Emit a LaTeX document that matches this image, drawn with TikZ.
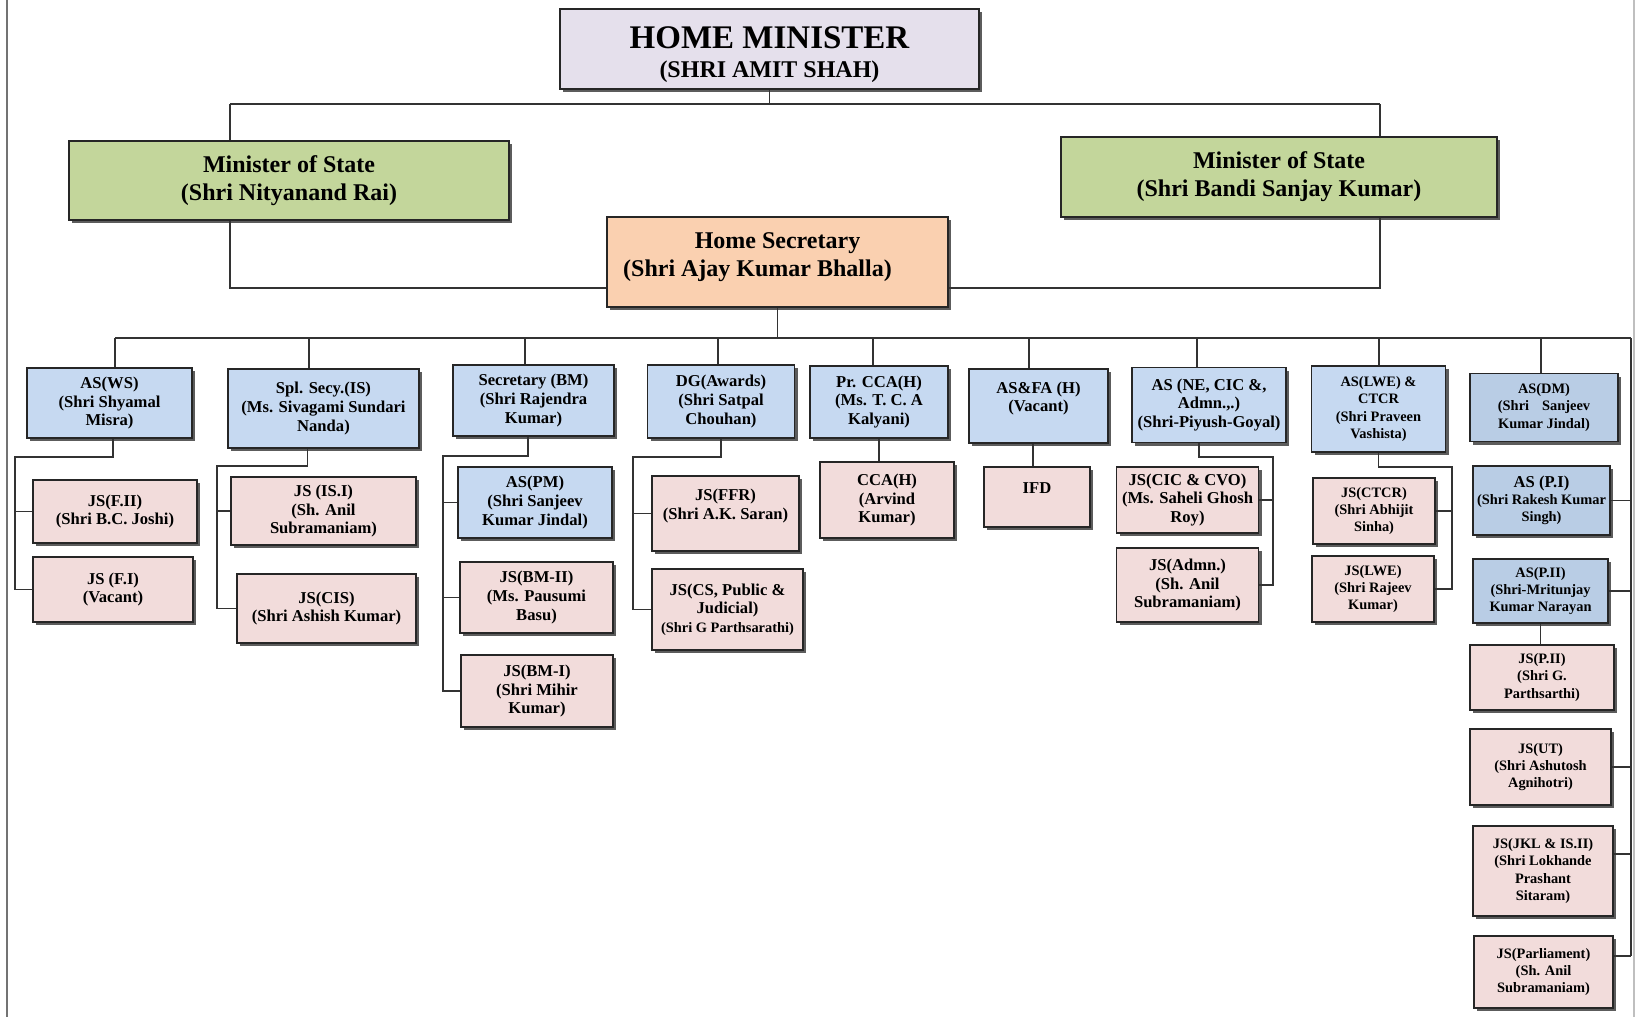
\documentclass[tikz,border=0pt]{standalone}
\usepackage{fontspec}
\setmainfont{Liberation Serif}
\usetikzlibrary{shadows}

\definecolor{hmcol}{HTML}{E5E0EC}
\definecolor{moscol}{HTML}{C3D69B}
\definecolor{hscol}{HTML}{FAD0B0}
\definecolor{bluecol}{HTML}{C6D9F1}
\definecolor{dbluecol}{HTML}{B9CDE5}
\definecolor{pinkcol}{HTML}{F2DCDB}

\tikzset{
  box/.style={draw=black!85, line width=0.8pt, align=center, inner sep=1pt,
    font={\bfseries\fontsize{8.3}{9.3}\selectfont},
    drop shadow={shadow xshift=1.5pt, shadow yshift=-1.5pt, fill=black!75, opacity=0.85}},
  bluebox/.style={box, fill=bluecol},
  dbluebox/.style={box, fill=dbluecol},
  pinkbox/.style={box, fill=pinkcol},
  sm/.style={font={\bfseries\fontsize{7.2}{8.6}\selectfont}},
  big/.style={font={\bfseries\fontsize{12}{14}\selectfont}},
  link/.style={draw=black!80, line width=0.75pt}
}

\begin{document}
\begin{tikzpicture}[x=0.5pt,y=-0.5pt]
    \useasboundingbox (0,0) rectangle (1636,1017);
    \fill[white] (0,0) rectangle (1636,1017);
    \draw[black!55, line width=0.8pt] (7,0) -- (7,1017);
    \draw[black!25, line width=0.6pt] (1634,0) -- (1634,1017);
    %% Top of the chart
    \node[box, fill=hmcol, font={\bfseries\fontsize{12}{14.4}\selectfont},
      minimum width=209.5pt, minimum height=40pt] (hm) at (769.5,49)
      {{\fontsize{16.5}{14.4}\selectfont\rule{0pt}{16.7pt}HOME MINISTER}\\(SHRI AMIT SHAH)};
    \node[box, big, fill=moscol, minimum width=220pt, minimum height=39.5pt] (mosl) at (289,180.5)
      {Minister of State\\(Shri Nityanand Rai)};
    \node[box, big, fill=moscol, minimum width=218pt, minimum height=40pt] (mosr) at (1279,177)
      {Minister of State\\(Shri Bandi Sanjay Kumar)};
    \node[box, big, fill=hscol, minimum width=170.5pt, minimum height=45pt] (hs) at (777.5,262)
      {Home Secretary\\(Shri Ajay Kumar Bhalla)\rule[-7.6pt]{0pt}{1pt}\hspace*{20pt}};
    %% Additional secretaries
    \node[bluebox, minimum width=82.5pt, minimum height=35pt] (ws) at (109.5,403)
      {AS(WS)\\(Shri Shyamal\\Misra)};
    \node[bluebox, minimum width=95.5pt, minimum height=39.5pt] (isec) at (323.5,408.5)
      {Spl. Secy.(IS)\\(Ms. Sivagami Sundari\\Nanda)};
    \node[bluebox, minimum width=80.5pt, minimum height=35.5pt] (bm) at (533.5,400.5)
      {Secretary (BM)\\(Shri Rajendra\\Kumar)};
    \node[bluebox, minimum width=73.5pt, minimum height=36.5pt] (awd) at (721,401.5)
      {DG(Awards)\\(Shri Satpal\\Chouhan)};
    \node[bluebox, minimum width=69pt, minimum height=36pt] (pcca) at (879,402)
      {Pr. CCA(H)\\(Ms. T. C. A\\Kalyani)};
    \node[bluebox, minimum width=69.5pt, minimum height=37pt] (asfa) at (1038.5,406)
      {AS\&FA (H)\\(Vacant)\\\mbox{}};
    \node[bluebox, minimum width=77pt, minimum height=37.5pt] (ne) at (1209,405)
      {AS (NE, CIC \&,\\Admn.,.)\\(Shri-Piyush-Goyal)};
    \node[bluebox, sm, minimum width=67pt, minimum height=43pt] (lwe) at (1378.5,409)
      {AS(LWE) \&\\CTCR\\(Shri Praveen\\Vashista)};
    \node[dbluebox, sm, minimum width=74pt, minimum height=34pt] (dm) at (1544,407.5)
      {AS(DM)\\(Shri\hspace{0.9em}Sanjeev\\Kumar Jindal)};
    %% Joint secretaries
    \node[pinkbox, minimum width=82pt, minimum height=31.5pt] (f2) at (115,511.5)
      {JS(F.II)\\(Shri B.C. Joshi)};
    \node[pinkbox, minimum width=80pt, minimum height=32.5pt] (f1) at (113,589.5)
      {JS (F.I)\\(Vacant)};
    \node[pinkbox, minimum width=92.5pt, minimum height=34pt] (is1) at (323.5,511)
      {JS (IS.I)\\(Sh. Anil\\Subramaniam)};
    \node[pinkbox, minimum width=89.5pt, minimum height=34.5pt] (cis) at (326.5,608.5)
      {JS(CIS)\\(Shri Ashish Kumar)};
    \node[bluebox, minimum width=77pt, minimum height=35.5pt] (pm) at (535,502.5)
      {AS(PM)\\(Shri Sanjeev\\Kumar Jindal)};
    \node[pinkbox, minimum width=76.5pt, minimum height=35.5pt] (bm2) at (536.5,597.5)
      {JS(BM-II)\\(Ms. Pausumi\\Basu)};
    \node[pinkbox, minimum width=76pt, minimum height=36pt] (bm1) at (537,691)
      {JS(BM-I)\\(Shri Mihir\\Kumar)};
    \node[pinkbox, minimum width=73.5pt, minimum height=37.5pt] (ffr) at (725.5,513.5)
      {JS(FFR)\\(Shri A.K. Saran)\\\mbox{}};
    \node[pinkbox, minimum width=75.5pt, minimum height=40.5pt] (cs) at (727.5,609.5)
      {JS(CS, Public \&\\Judicial)\\{\fontsize{7.2}{9.3}\selectfont (Shri G Parthsarathi)}};
    \node[pinkbox, minimum width=67pt, minimum height=38pt] (cca) at (887,500)
      {CCA(H)\\(Arvind\\Kumar)};
    \node[pinkbox, minimum width=53pt, minimum height=30pt] (ifd) at (1037,497)
      {IFD\\\mbox{}};
    \node[pinkbox, minimum width=71pt, minimum height=33pt] (cic) at (1187.5,500)
      {JS(CIC \& CVO)\\(Ms. Saheli Ghosh\\Roy)};
    \node[pinkbox, minimum width=71pt, minimum height=37pt] (adm) at (1187.5,585)
      {JS(Admn.)\\(Sh. Anil\\Subramaniam)};
    \node[pinkbox, sm, minimum width=61pt, minimum height=33pt] (ctcr) at (1374,511)
      {JS(CTCR)\\(Shri Abhijit\\Sinha)};
    \node[pinkbox, sm, minimum width=61pt, minimum height=33pt] (lwej) at (1373,589)
      {JS(LWE)\\(Shri Rajeev\\Kumar)};
    \node[dbluebox, sm, minimum width=68.5pt, minimum height=34.5pt] (pi) at (1541.5,500.5)
      {{\fontsize{8.3}{8.6}\selectfont AS (P.I)}\\(Shri Rakesh Kumar\\Singh)};
    \node[dbluebox, sm, minimum width=67.5pt, minimum height=32pt] (pii) at (1540.5,591)
      {AS(P.II)\\(Shri-Mritunjay\\Kumar Narayan};
    \node[pinkbox, sm, minimum width=72pt, minimum height=32.5pt] (jp2) at (1542,677.5)
      {JS(P.II)\\(Shri G.\\Parthsarthi)};
    \node[pinkbox, sm, minimum width=70.5pt, minimum height=38pt] (ut) at (1540.5,767)
      {JS(UT)\\(Shri Ashutosh\\Agnihotri)};
    \node[pinkbox, sm, minimum width=70pt, minimum height=45pt] (jkl) at (1543,871)
      {JS(JKL \& IS.II)\\(Shri Lokhande\\Prashant\\Sitaram)};
    \node[pinkbox, sm, minimum width=69.5pt, minimum height=36pt] (par) at (1543.5,972)
      {JS(Parliament)\\(Sh. Anil\\Subramaniam)};
    %% Minister lines
    \coordinate (t1) at (230,104);
    \coordinate (t2) at (1380,104);
    \coordinate (t3) at (230,288);
    \coordinate (t4) at (1380,288);
    \draw[link] (hm.south) -- (hm.south |- t1);
    \draw[link] (t1) -- (t2);
    \draw[link] (t1) -- (t1 |- mosl.north);
    \draw[link] (t2) -- (t2 |- mosr.north);
    \draw[link] (t1 |- mosl.south) -- (t3) -- (t3 -| hs.west);
    \draw[link] (t2 |- mosr.south) -- (t4) -- (t4 -| hs.east);
    %% Secretary bus
    \coordinate (b1) at (115,338);
    \coordinate (b2) at (1631,338);
    \coordinate (d2) at (309,338);
    \coordinate (d3) at (525,338);
    \coordinate (d4) at (718,338);
    \coordinate (d5) at (873,338);
    \coordinate (d6) at (1029,338);
    \coordinate (d7) at (1197,338);
    \coordinate (d8) at (1379,338);
    \coordinate (d9) at (1541,338);
    \draw[link] (hs.south) -- (hs.south |- b1);
    \draw[link] (b1) -- (b2);
    \draw[link] (b1) -- (b1 |- ws.north);
    \draw[link] (d2) -- (d2 |- isec.north);
    \draw[link] (d3) -- (d3 |- bm.north);
    \draw[link] (d4) -- (d4 |- awd.north);
    \draw[link] (d5) -- (d5 |- pcca.north);
    \draw[link] (d6) -- (d6 |- asfa.north);
    \draw[link] (d7) -- (d7 |- ne.north);
    \draw[link] (d8) -- (d8 |- lwe.north);
    \draw[link] (d9) -- (d9 |- dm.north);
    %% Right hand column
    \coordinate (k1) at ([yshift=8.5pt]jkl.east);
    \coordinate (k2) at ([yshift=8pt]par.east);
    \draw[link] (b2) -- (b2 |- k2);
    \draw[link] (pi.east) -- (pi.east -| b2);
    \draw[link] (pii.east) -- (pii.east -| b2);
    \draw[link] (ut.east) -- (ut.east -| b2);
    \draw[link] (k1) -- (k1 -| b2);
    \draw[link] (k2) -- (k2 -| b2);
    \draw[link] (pii.south) -- (pii.south |- jp2.north);
    %% Joint secretary brackets
    \coordinate (c1) at (15,457);
    \draw[link] ([xshift=1.75pt]ws.south) |- (c1) |- (f1.west);
    \draw[link] (c1 |- f2.west) -- (f2.west);
    \coordinate (c2) at (217,466);
    \draw[link] ([xshift=-8pt]isec.south) |- (c2) |- (cis.west);
    \draw[link] (c2 |- is1.west) -- (is1.west);
    \coordinate (c3) at (443,456);
    \draw[link] ([xshift=-2.75pt]bm.south) |- (c3) |- (bm1.west);
    \draw[link] (c3 |- pm.west) -- (pm.west);
    \draw[link] (c3 |- bm2.west) -- (bm2.west);
    \coordinate (c4) at (633,457);
    \draw[link] (awd.south) |- (c4) |- (cs.west);
    \draw[link] (c4 |- ffr.west) -- (ffr.west);
    \draw[link] (pcca.south) -- (pcca.south |- cca.north);
    \draw[link] ([xshift=-2.75pt]asfa.south) -- ([xshift=-2.75pt]asfa.south |- ifd.north);
    \coordinate (c7) at (1273,457);
    \draw[link] ([xshift=-5pt]ne.south) |- (c7) |- (adm.east);
    \draw[link] (c7 |- cic.east) -- (cic.east);
    \coordinate (c8) at (1452,467);
    \draw[link] (lwe.south) |- (c8) |- (lwej.east);
    \draw[link] (c8 |- ctcr.east) -- (ctcr.east);
\end{tikzpicture}
\end{document}
